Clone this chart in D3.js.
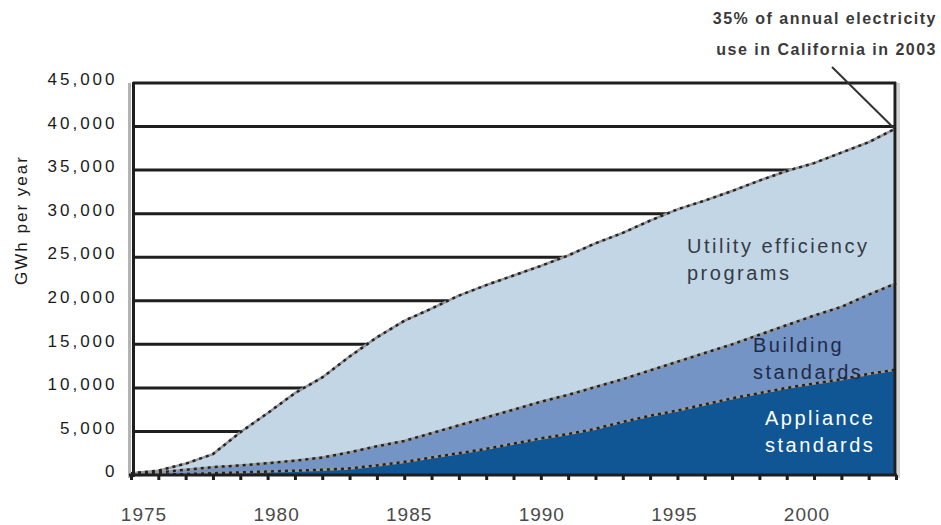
<!DOCTYPE html>
<html>
<head>
<meta charset="utf-8">
<script src="https://cdn.jsdelivr.net/npm/d3@7"></script>
<style>
  body { margin: 0; background: #fff; }
  text { font-family: "Liberation Sans", Arial, sans-serif; }
</style>
</head>
<body>
<svg id="chart"></svg>
<script>
var width = 941;
var height = 525;

// savings in GWh per year
var years = [1975, 1976, 1977, 1978, 1979, 1980, 1981, 1982, 1983, 1984,
             1985, 1986, 1987, 1988, 1989, 1990, 1991, 1992, 1993, 1994,
             1995, 1996, 1997, 1998, 1999, 2000, 2001, 2002, 2003];
var appliance = [0, 50, 100, 200, 300, 400, 500, 600, 750, 1100,
                 1500, 2000, 2500, 3000, 3600, 4200, 4700, 5300, 6100, 6800,
                 7400, 8100, 8800, 9400, 10000, 10500, 11000, 11600, 12100];
var building = [100, 250, 500, 700, 800, 950, 1150, 1400, 1850, 2200,
                2400, 2800, 3200, 3600, 3900, 4200, 4500, 4800, 4900, 5200,
                5600, 5900, 6200, 6700, 7200, 7800, 8300, 9100, 9900];
var utility = [100, 200, 700, 1500, 3800, 5750, 7750, 9200, 11000, 12500,
               13800, 14300, 14900, 15200, 15400, 15600, 16000, 16500, 16800, 17200,
               17500, 17500, 17600, 17700, 17700, 17500, 17700, 17500, 17800];

var yTicks = [0, 5000, 10000, 15000, 20000, 25000, 30000, 35000, 40000, 45000];
var xLabels = [1975, 1980, 1985, 1990, 1995, 2000];

var seriesKeys = ["appliance", "building", "utility"];
var colors = {appliance: "#105694", building: "#7494c5", utility: "#c2d6e6"};

var rows = years.map(function(y, i) {
    return {year: y, appliance: appliance[i], building: building[i], utility: utility[i]};
});
var stacked = d3.stack().keys(seriesKeys)(rows);

var xScale = d3.scaleLinear()
                .domain([1975, 2003])
                .range([131, 896]);
var yScale = d3.scaleLinear()
                .domain([0, 45000])
                .range([475, 83]);
// year labels sit a bit apart from the tick marks in the original
var labelScale = d3.scaleLinear()
                .domain([1975, 2000])
                .range([144, 807]);

var svg = d3.select("#chart")
    .attr("width", width)
    .attr("height", height);

// gridlines (covered by the areas)
svg.append("g")
    .selectAll("line")
    .data(yTicks.slice(1))
    .enter()
    .append("line")
    .attr("x1", 133)
    .attr("x2", 896)
    .attr("y1", d => yScale(d))
    .attr("y2", d => yScale(d))
    .attr("stroke", "#1e1e1e")
    .attr("stroke-width", 3);

var area = d3.area()
    .x(d => xScale(d.data.year))
    .y0(d => yScale(d[0]))
    .y1(d => yScale(d[1]));

svg.append("g")
    .selectAll("path")
    .data(stacked)
    .enter()
    .append("path")
    .attr("d", area)
    .attr("fill", d => colors[d.key]);

var topLine = d3.line()
    .x(d => xScale(d.data.year))
    .y(d => yScale(d[1]));

var edges = svg.append("g");
edges.selectAll("path.base")
    .data(stacked)
    .enter()
    .append("path")
    .attr("class", "base")
    .attr("d", topLine)
    .attr("fill", "none")
    .attr("stroke", "#9a9a9a")
    .attr("stroke-width", 2.5);
edges.selectAll("path.dots")
    .data(stacked)
    .enter()
    .append("path")
    .attr("class", "dots")
    .attr("d", topLine)
    .attr("fill", "none")
    .attr("stroke", "#222")
    .attr("stroke-width", 2.5)
    .attr("stroke-dasharray", "3,4");

// frame
svg.append("line")
    .attr("x1", 129.5).attr("x2", 129.5)
    .attr("y1", 83).attr("y2", 478)
    .attr("stroke", "#b4b4b4").attr("stroke-width", 3);
svg.append("line")
    .attr("x1", 898.5).attr("x2", 898.5)
    .attr("y1", 83).attr("y2", 478)
    .attr("stroke", "#d2d2d2").attr("stroke-width", 3);
svg.append("line")
    .attr("x1", 895).attr("x2", 895)
    .attr("y1", 82).attr("y2", 476)
    .attr("stroke", "#1e1e1e").attr("stroke-width", 3);

var yAxis = d3.axisLeft(yScale)
    .tickValues(yTicks)
    .tickSize(0)
    .tickFormat(d3.format(","));
svg.append("g")
    .attr("transform", "translate(133.5,0)")
    .call(yAxis)
    .call(g => g.select(".domain").attr("stroke", "#1e1e1e").attr("stroke-width", 3).attr("d", "M0,82V477"))
    .call(g => g.selectAll("text")
        .attr("x", -16)
        .attr("dy", "0.1em")
        .attr("fill", "#1a1a1a")
        .style("font-family", "Liberation Sans, Arial, sans-serif")
        .style("font-size", "17px")
        .style("letter-spacing", "3px"));

var xAxis = d3.axisBottom(xScale)
    .tickValues(years)
    .tickSize(5)
    .tickSizeOuter(0)
    .tickFormat("");
svg.append("g")
    .attr("transform", "translate(0,475)")
    .call(xAxis)
    .call(g => g.select(".domain").attr("stroke", "#1e1e1e").attr("stroke-width", 3).attr("d", "M129,0H897"))
    .call(g => g.selectAll(".tick line").attr("stroke", "#1e1e1e").attr("stroke-width", 3));

svg.append("g")
    .selectAll("text")
    .data(xLabels)
    .enter()
    .append("text")
    .attr("x", d => labelScale(d))
    .attr("y", 521)
    .attr("text-anchor", "middle")
    .attr("fill", "#4a4a4a")
    .style("font-size", "19px")
    .style("letter-spacing", "1px")
    .text(d => d);

svg.append("text")
    .attr("transform", "translate(27,220) rotate(-90)")
    .attr("text-anchor", "middle")
    .attr("fill", "#1a1a1a")
    .style("font-size", "17px")
    .style("letter-spacing", "2px")
    .text("GWh per year");

// labels inside the areas
function twoLines(x, y, lines, fill) {
    var t = svg.append("text")
        .attr("x", x)
        .attr("y", y)
        .attr("fill", fill)
        .style("font-size", "20px")
        .style("letter-spacing", "2.5px");
    lines.forEach(function(s, i) {
        t.append("tspan").attr("x", x).attr("dy", i ? 27 : 0).text(s);
    });
}
twoLines(687, 253, ["Utility efficiency", "programs"], "#353b45");
twoLines(753, 352, ["Building", "standards"], "#1f2a45");
twoLines(765, 425, ["Appliance", "standards"], "#ffffff");

// annotation
svg.append("line")
    .attr("x1", 832).attr("y1", 67)
    .attr("x2", xScale(2003) - 2).attr("y2", yScale(39800))
    .attr("stroke", "#333")
    .attr("stroke-width", 2);
var note = svg.append("text")
    .attr("x", 937)
    .attr("y", 24)
    .attr("text-anchor", "end")
    .attr("fill", "#3a3a3a")
    .style("font-size", "16px")
    .style("font-weight", "bold")
    .style("letter-spacing", "1.5px");
note.append("tspan").attr("x", 937).text("35% of annual electricity");
note.append("tspan").attr("x", 937).attr("dy", 31).text("use in California in 2003");
</script>
</body>
</html>
